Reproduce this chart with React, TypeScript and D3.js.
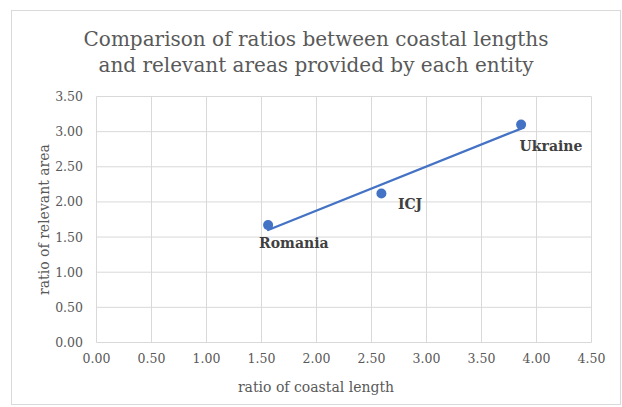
import React from "react";
import * as d3 from "d3";

const entities = ["Romania", "ICJ", "Ukraine"];
const coastalRatio = [1.56, 2.59, 3.86];
const areaRatio = [1.67, 2.12, 3.1];
const xTicks = [0, 0.5, 1, 1.5, 2, 2.5, 3, 3.5, 4, 4.5];
const yTicks = [0, 0.5, 1, 1.5, 2, 2.5, 3, 3.5];
const titleLines = [
  "Comparison of ratios between coastal lengths",
  "and relevant areas provided by each entity",
];
const labelOffsets = [
  [-9, 23],
  [16.5, 15.5],
  [-1.5, 26],
];

const W = 622;
const H = 407;
const BLUE = "#4472C4";
const GRID = "#d9d9d9";
const TXT = "#595959";
const FONT = "'DejaVu Serif', serif";

export default function App() {
  const x = d3.scaleLinear().domain([0, 4.5]).range([96.5, 591.5]);
  const y = d3.scaleLinear().domain([0, 3.5]).range([342.5, 96.5]);

  // linear trendline (least squares)
  const mx = d3.mean(coastalRatio) as number;
  const my = d3.mean(areaRatio) as number;
  const sxy = d3.sum(coastalRatio.map((v, i) => (v - mx) * (areaRatio[i] - my)));
  const sxx = d3.sum(coastalRatio.map((v) => (v - mx) * (v - mx)));
  const slope = sxy / sxx;
  const icpt = my - slope * mx;
  const x0 = d3.min(coastalRatio) as number;
  const x1 = d3.max(coastalRatio) as number;
  const trend = d3
    .line<number>()
    .x((d) => x(d))
    .y((d) => y(icpt + slope * d))([x0, x1]);

  return (
    <svg
      width={W}
      height={H}
      style={{ position: "absolute", left: 0, top: 0, background: "#fff" }}
    >
      <rect x={11.5} y={10.5} width={609} height={394} fill="#fff" stroke={GRID} strokeWidth={1} />
      {titleLines.map((t, i) => (
        <text
          key={i}
          x={316}
          y={46 + i * 26}
          textAnchor="middle"
          fontFamily={FONT}
          fontSize={20}
          fill={TXT}
        >
          {t}
        </text>
      ))}
      {yTicks.map((t) => (
        <line key={"h" + t} x1={x(0)} x2={x(4.5)} y1={y(t)} y2={y(t)} stroke={GRID} strokeWidth={1} />
      ))}
      {xTicks.map((t) => (
        <line key={"v" + t} x1={x(t)} x2={x(t)} y1={y(0)} y2={y(3.5)} stroke={GRID} strokeWidth={1} />
      ))}
      {yTicks.map((t) => (
        <text
          key={"yl" + t}
          x={83}
          y={y(t) + 4.5}
          textAnchor="end"
          fontFamily={FONT}
          fontSize={12.5}
          fill={TXT}
        >
          {t.toFixed(2)}
        </text>
      ))}
      {xTicks.map((t) => (
        <text
          key={"xl" + t}
          x={x(t)}
          y={362.5}
          textAnchor="middle"
          fontFamily={FONT}
          fontSize={12.5}
          fill={TXT}
        >
          {t.toFixed(2)}
        </text>
      ))}
      <text
        x={316}
        y={392}
        textAnchor="middle"
        fontFamily={FONT}
        fontSize={14}
        fill={TXT}
      >
        ratio of coastal length
      </text>
      <text
        transform={`translate(49,${(y(0) + y(3.5)) / 2}) rotate(-90)`}
        textAnchor="middle"
        fontFamily={FONT}
        fontSize={14}
        fill={TXT}
      >
        ratio of relevant area
      </text>
      <path d={trend || ""} fill="none" stroke={BLUE} strokeWidth={2.25} strokeLinecap="round" />
      {entities.map((e, i) => (
        <circle key={e} cx={x(coastalRatio[i])} cy={y(areaRatio[i])} r={5} fill={BLUE} />
      ))}
      {entities.map((e, i) => (
        <text
          key={"l" + e}
          x={x(coastalRatio[i]) + labelOffsets[i][0]}
          y={y(areaRatio[i]) + labelOffsets[i][1]}
          fontFamily={FONT}
          fontSize={14}
          fontWeight="bold"
          fill="#404040"
        >
          {e}
        </text>
      ))}
    </svg>
  );
}
